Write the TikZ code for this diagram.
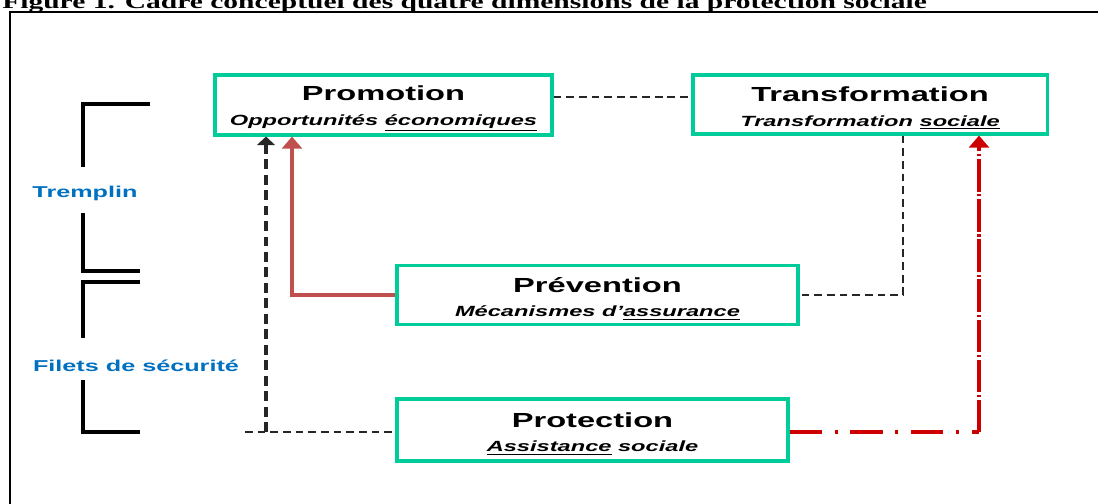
\documentclass[tikz,border=0pt]{standalone}
\usepackage{fontspec}
\setmainfont{Liberation Sans}
\newfontfamily\boxfont[FakeStretch=1.6]{Liberation Sans}
\newfontfamily\titlefont[FakeStretch=1.5]{Liberation Serif}
\usetikzlibrary{arrows.meta}
\definecolor{boxgreen}{RGB}{0,204,153}
\definecolor{sideblue}{RGB}{0,112,192}
\definecolor{arrowred}{RGB}{192,80,77}
\definecolor{dashred}{RGB}{204,0,0}
\tikzset{
    dimbox/.style={draw=boxgreen, line width=2.2pt, fill=white, align=center, inner sep=0pt, font=\boxfont},
    sidelabel/.style={text=sideblue, font=\boxfont\fontsize{11.2}{13}\selectfont\bfseries},
    bracket/.style={black, line width=2.6pt},
    linkdash/.style={black!85, line width=1.1pt, dash pattern=on 5.5pt off 3.5pt},
}
\newcommand{\dimtext}[2]{{\fontsize{14.5}{16}\selectfont\bfseries\rule{0pt}{15.5pt}#1}\\[5.5pt]{\fontsize{10.5}{12}\selectfont\bfseries\itshape #2}}

\begin{document}
\begin{tikzpicture}[x=0.025cm, y=-0.025cm]
        \useasboundingbox (0,0) rectangle (1098,504);
        \clip (0,0) rectangle (1098,504);

        % title and frame
        \node[anchor=base west, inner sep=0pt, font=\titlefont\fontsize{14}{16}\selectfont\bfseries] (title) at (2,8.5)
            {Figure 1. Cadre conceptuel des quatre dimensions de la protection sociale};
        \draw [black, line width=1.6pt] (10,530) -- (10,12) -- (1120,12);

        % the four dimensions
        \node[dimbox, minimum width=239.7pt, minimum height=42.7pt] (promo) at (383.5,105)
            {\dimtext{Promotion}{Opportunités \underline{économiques}}};
        \node[dimbox, minimum width=251.8pt, minimum height=42pt] (trans) at (870,104.5)
            {\dimtext{Transformation}{Transformation \underline{sociale}}};
        \node[dimbox, minimum width=285.2pt, minimum height=42pt] (prev) at (597.5,295)
            {\dimtext{Prévention}{Mécanismes d’\underline{assurance}}};
        \node[dimbox, minimum width=278.1pt, minimum height=44.1pt] (prot) at (592.5,430)
            {\dimtext{Protection}{\underline{Assistance} sociale}};

        % brackets on the left
        \draw [bracket] (150,104) -- (83,104) -- (83,167);
        \draw [bracket] (83,213) -- (83,271) -- (140,271);
        \draw [bracket] (140,282) -- (83,282) -- (83,338);
        \draw [bracket] (83,380) -- (83,432) -- (140,432);
        \node[sidelabel] (tremplin) at (85,193) {Tremplin};
        \node[sidelabel] (filets) at (136,366) {Filets de sécurité};

        % links
        \coordinate (lvlA) at (0,97);
        \coordinate (kD) at (903,0);
        \coordinate (kR) at (292,0);
        \coordinate (kT) at (979,0);
        \coordinate (kS) at (245,432);
        \coordinate (kB) at (266,432);
        \draw [linkdash] (promo.east |- lvlA) -- (trans.west |- lvlA);
        \draw [linkdash] (kD |- trans.south) |- (prev.east);
        \draw [linkdash] (kS) -- (kS -| prot.west);
        \draw [black!85, line width=2.4pt, dash pattern=on 7pt off 4pt, -{Triangle[width=12.5pt, length=6pt]}] (kB) -- (kB |- promo.south);
        \draw [arrowred, line width=2.4pt, -{Triangle[width=14pt, length=8.5pt]}] (prev.west) -| (kR |- promo.south);
        \draw [dashred, line width=2.4pt, dash pattern=on 22.8pt off 9.2pt on 2.1pt off 9.2pt] (prot.east |- kS) -- (kT |- kS);
        \draw [dashred, line width=2.4pt, dash pattern=on 23pt off 2pt on 1.5pt off 2pt, -{Triangle[width=14pt, length=8.5pt]}] (kT |- kS) -- (kT |- trans.south);
\end{tikzpicture}
\end{document}
